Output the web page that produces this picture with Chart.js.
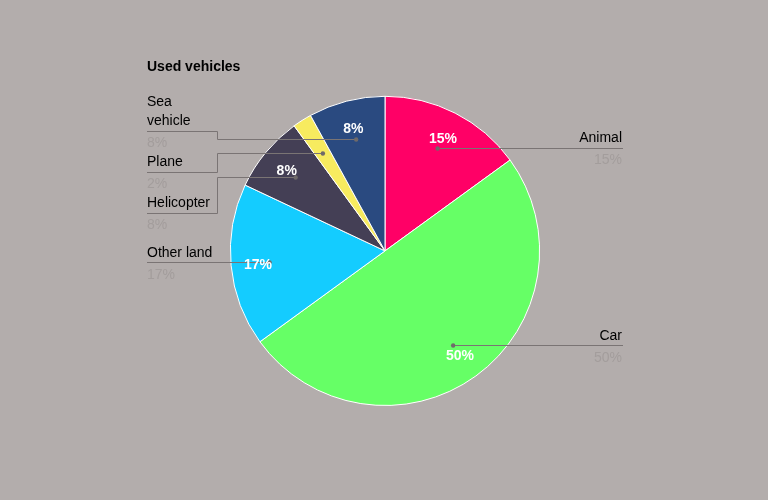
<!DOCTYPE html>
<html><head><meta charset="utf-8">
<script src="https://cdn.jsdelivr.net/npm/chart.js@4.4.1/dist/chart.umd.min.js"></script>
<style>html,body{margin:0;padding:0;background:#b3adac;overflow:hidden;}</style>
</head><body>
<canvas id="c" width="768" height="500"></canvas>
<script>
const categories = ['Animal', 'Car', 'Other land', 'Helicopter', 'Plane', 'Sea vehicle'];
const values = [15, 50, 17, 8, 2, 8];
const colors = ['#ff0066', '#66ff66', '#14ccff', '#443f55', '#f7eb5f', '#2a4a80'];
const titleText = 'Used vehicles';

const FAMILY = '"Liberation Sans", Arial, Helvetica, sans-serif';

function wrapText(ctx, text, maxW) {
  const words = text.split(' ');
  const lines = [];
  let cur = '';
  for (const w of words) {
    const t = cur ? cur + ' ' + w : w;
    if (cur && ctx.measureText(t).width > maxW) { lines.push(cur); cur = w; }
    else cur = t;
  }
  if (cur) lines.push(cur);
  return lines;
}

const outLabels = {
  id: 'outLabels',
  afterDatasetsDraw(chart) {
    const ctx = chart.ctx;
    const meta = chart.getDatasetMeta(0);
    const area = chart.chartArea;
    const total = values.reduce((a, b) => a + b, 0);
    const LH = 19, maxW = 70, GAP = 41, TY = 2;
    ctx.save();
    ctx.font = '14px ' + FAMILY;
    const items = meta.data.map((arc, i) => {
      const p = arc.getProps(['x', 'y', 'startAngle', 'endAngle', 'outerRadius'], true);
      const mid = (p.startAngle + p.endAngle) / 2;
      const dx = Math.cos(mid), dy = Math.sin(mid);
      return {
        i, cx: p.x, cy: p.y,
        dotX: p.x + dx * p.outerRadius * 0.75, dotY: p.y + dy * p.outerRadius * 0.75,
        txtX: p.x + dx * p.outerRadius * 0.825, txtY: p.y + dy * p.outerRadius * 0.825,
        right: dx >= 0,
        lines: wrapText(ctx, categories[i], maxW),
        pct: Math.round(values[i] / total * 100) + '%',
        frac: values[i] / total
      };
    });
    // layout per side
    [true, false].forEach(side => {
      const list = items.filter(it => it.right === side).sort((a, b) => a.dotY - b.dotY);
      let prev = null;
      list.forEach(it => {
        let target = it.dotY - (it.lines.length - 1) * 8;
        if (prev !== null) target = Math.max(target, prev + GAP + (it.lines.length - 1) * LH);
        it.lineY = target;
        prev = target;
      });
    });
    // leader lines
    ctx.strokeStyle = '#7a7474';
    ctx.fillStyle = '#6f6a6a';
    ctx.lineWidth = 1;
    items.forEach(it => {
      const edgeX = it.right ? area.right : area.left;
      const elbowX = it.right ? area.right - maxW : area.left + maxW;
      const ly = Math.round(it.lineY) + 0.5;
      const dy = Math.round(it.dotY) + 0.5;
      ctx.beginPath();
      ctx.moveTo(edgeX, ly);
      if (Math.abs(ly - dy) > 1) {
        ctx.lineTo(elbowX + 0.5, ly);
        ctx.lineTo(elbowX + 0.5, dy);
        ctx.lineTo(it.dotX, dy);
      } else {
        ctx.lineTo(it.dotX, ly);
      }
      ctx.stroke();
      ctx.beginPath();
      ctx.arc(it.dotX, Math.abs(ly - dy) > 1 ? dy : ly, 2.2, 0, Math.PI * 2);
      ctx.fill();
    });
    // outside text
    ctx.textBaseline = 'middle';
    items.forEach(it => {
      const x = it.right ? area.right - 1 : area.left;
      ctx.textAlign = it.right ? 'right' : 'left';
      ctx.font = '14px ' + FAMILY;
      ctx.fillStyle = '#000000';
      const n = it.lines.length;
      it.lines.forEach((ln, j) => {
        ctx.fillText(ln, x, it.lineY - 11 + TY - (n - 1 - j) * LH);
      });
      ctx.fillStyle = '#a39d9c';
      ctx.fillText(it.pct, x, it.lineY + 11 + TY);
    });
    // inner percent text
    ctx.textAlign = 'center';
    ctx.fillStyle = '#ffffff';
    ctx.font = 'bold 14px ' + FAMILY;
    items.forEach(it => {
      if (it.frac < 0.05) return;
      ctx.fillText(it.pct, it.txtX, it.txtY + TY);
    });
    ctx.restore();
  }
};

new Chart(document.getElementById('c'), {
  type: 'pie',
  data: {
    labels: categories,
    datasets: [{
      data: values,
      backgroundColor: colors,
      borderColor: '#ffffff',
      borderWidth: 1
    }]
  },
  options: {
    responsive: false,
    animation: false,
    events: [],
    layout: { padding: { top: 59, bottom: 94, left: 147, right: 145 } },
    plugins: {
      legend: { display: false },
      tooltip: { enabled: false },
      title: {
        display: true,
        text: titleText,
        align: 'start',
        color: '#000000',
        font: { size: 14, weight: 'bold', family: FAMILY },
        padding: { top: 0, bottom: 20 }
      }
    }
  },
  plugins: [outLabels]
});
</script>
</body></html>
